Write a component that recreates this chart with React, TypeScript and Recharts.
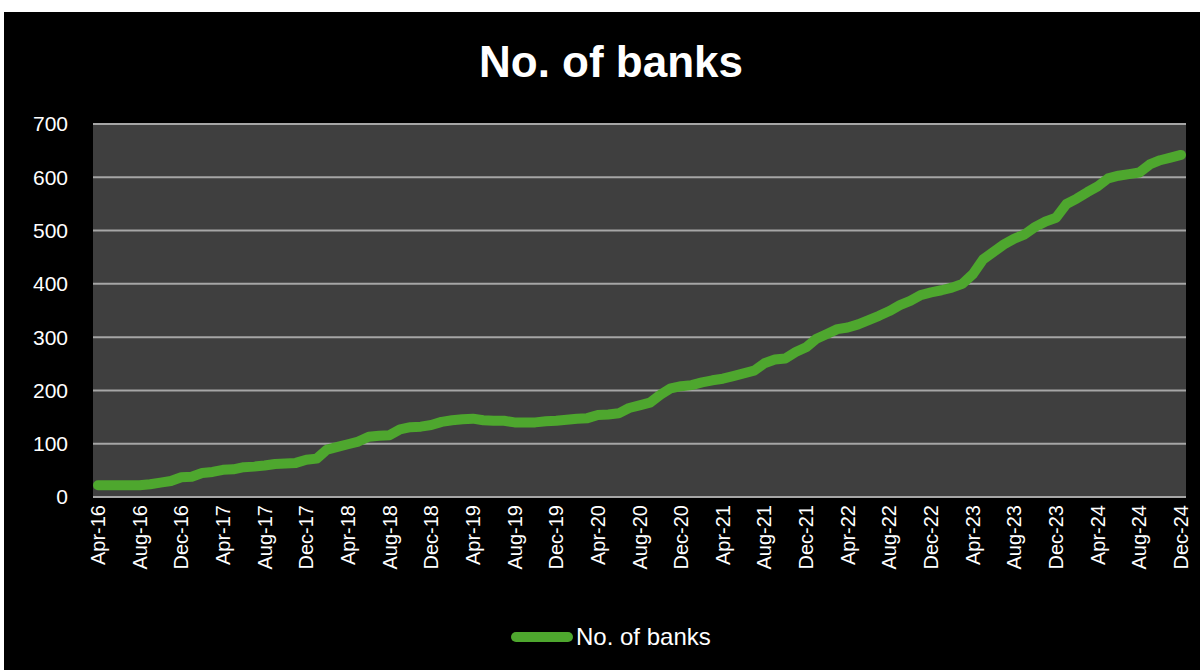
import React from 'react';
import { LineChart, Line, XAxis, YAxis, CartesianGrid } from 'recharts';

// monthly, Apr-16 .. Dec-24
const months = [
  'Apr-16', 'May-16', 'Jun-16', 'Jul-16', 'Aug-16', 'Sep-16', 'Oct-16', 'Nov-16', 'Dec-16',
  'Jan-17', 'Feb-17', 'Mar-17', 'Apr-17', 'May-17', 'Jun-17', 'Jul-17', 'Aug-17', 'Sep-17', 'Oct-17', 'Nov-17', 'Dec-17',
  'Jan-18', 'Feb-18', 'Mar-18', 'Apr-18', 'May-18', 'Jun-18', 'Jul-18', 'Aug-18', 'Sep-18', 'Oct-18', 'Nov-18', 'Dec-18',
  'Jan-19', 'Feb-19', 'Mar-19', 'Apr-19', 'May-19', 'Jun-19', 'Jul-19', 'Aug-19', 'Sep-19', 'Oct-19', 'Nov-19', 'Dec-19',
  'Jan-20', 'Feb-20', 'Mar-20', 'Apr-20', 'May-20', 'Jun-20', 'Jul-20', 'Aug-20', 'Sep-20', 'Oct-20', 'Nov-20', 'Dec-20',
  'Jan-21', 'Feb-21', 'Mar-21', 'Apr-21', 'May-21', 'Jun-21', 'Jul-21', 'Aug-21', 'Sep-21', 'Oct-21', 'Nov-21', 'Dec-21',
  'Jan-22', 'Feb-22', 'Mar-22', 'Apr-22', 'May-22', 'Jun-22', 'Jul-22', 'Aug-22', 'Sep-22', 'Oct-22', 'Nov-22', 'Dec-22',
  'Jan-23', 'Feb-23', 'Mar-23', 'Apr-23', 'May-23', 'Jun-23', 'Jul-23', 'Aug-23', 'Sep-23', 'Oct-23', 'Nov-23', 'Dec-23',
  'Jan-24', 'Feb-24', 'Mar-24', 'Apr-24', 'May-24', 'Jun-24', 'Jul-24', 'Aug-24', 'Sep-24', 'Oct-24', 'Nov-24', 'Dec-24',
];

const banks = [
  22, 22, 22, 22, 22, 24, 27, 30, 37,
  38, 45, 47, 51, 52, 56, 57, 59, 62, 63, 64, 70,
  72, 89, 94, 99, 104, 113, 115, 116, 127, 131, 132, 135,
  141, 144, 146, 147, 144, 143, 143, 140, 140, 140, 142, 143,
  145, 147, 148, 154, 155, 157, 167, 172, 177, 192, 204, 208,
  210, 215, 219, 222, 227, 232, 237, 251, 258, 260, 272, 281,
  297, 306, 315, 318, 324, 332, 340, 349, 360, 368, 379, 384,
  388, 393, 400, 418, 446, 460, 474, 485, 493, 507, 517, 524,
  550, 560, 572, 583, 598, 603, 606, 609, 624, 632, 637, 642,
];

const yTicks = [0, 100, 200, 300, 400, 500, 600, 700];

const data = months.map((m, i) => ({ month: m, banks: banks[i] }));

const FONT = '"Liberation Sans", Arial, sans-serif';
const GREEN = '#4ea72e';

const MonthTick = (props: any) => {
  const { x, y, payload } = props;
  return (
    <g transform={`translate(${x},${y})`}>
      <text
        transform="rotate(-90)"
        textAnchor="end"
        dy="0.35em"
        fill="#ffffff"
        fontSize={20}
        fontFamily={FONT}
      >
        {payload.value}
      </text>
    </g>
  );
};

export default function App() {
  return (
    <div style={{ position: 'absolute', left: 0, top: 0, width: 1200, height: 670, background: '#ffffff' }}>
      <div style={{ position: 'absolute', left: 4, top: 12, width: 1196, height: 658, background: '#000000' }}>
        <div
          style={{
            position: 'absolute',
            left: 607,
            top: 28,
            transform: 'translateX(-50%)',
            color: '#ffffff',
            fontFamily: FONT,
            fontWeight: 'bold',
            fontSize: 44,
            lineHeight: '44px',
            whiteSpace: 'nowrap',
          }}
        >
          No. of banks
        </div>

        <LineChart
          width={1196}
          height={658}
          data={data}
          margin={{ top: 112, right: 14, bottom: 0, left: 0 }}
        >
          <CartesianGrid vertical={false} fill="#3f3f3f" stroke="#a6a6a6" strokeWidth={2} />
          <XAxis
            dataKey="month"
            interval={3}
            height={173}
            padding={{ left: 5, right: 5 }}
            axisLine={{ stroke: '#a6a6a6', strokeWidth: 2 }}
            tickLine={false}
            tickSize={0}
            tickMargin={8}
            tick={<MonthTick />}
          />
          <YAxis
            width={89}
            domain={[0, 700]}
            ticks={yTicks}
            axisLine={false}
            tickLine={false}
            tickSize={0}
            tickMargin={25}
            tick={{ fill: '#ffffff', fontSize: 21, fontFamily: FONT }}
          />
          <Line
            type="linear"
            dataKey="banks"
            stroke={GREEN}
            strokeWidth={10}
            strokeLinecap="round"
            strokeLinejoin="round"
            dot={false}
            isAnimationActive={false}
          />
        </LineChart>

        <div
          style={{
            position: 'absolute',
            left: 506,
            top: 610,
            height: 30,
            display: 'flex',
            alignItems: 'center',
            color: '#ffffff',
            fontFamily: FONT,
            fontSize: 24,
            whiteSpace: 'nowrap',
          }}
        >
          <svg width={64} height={14} style={{ marginRight: 2 }}>
            <line x1={6} y1={7} x2={58} y2={7} stroke={GREEN} strokeWidth={10} strokeLinecap="round" />
          </svg>
          <span>No. of banks</span>
        </div>
      </div>
    </div>
  );
}
